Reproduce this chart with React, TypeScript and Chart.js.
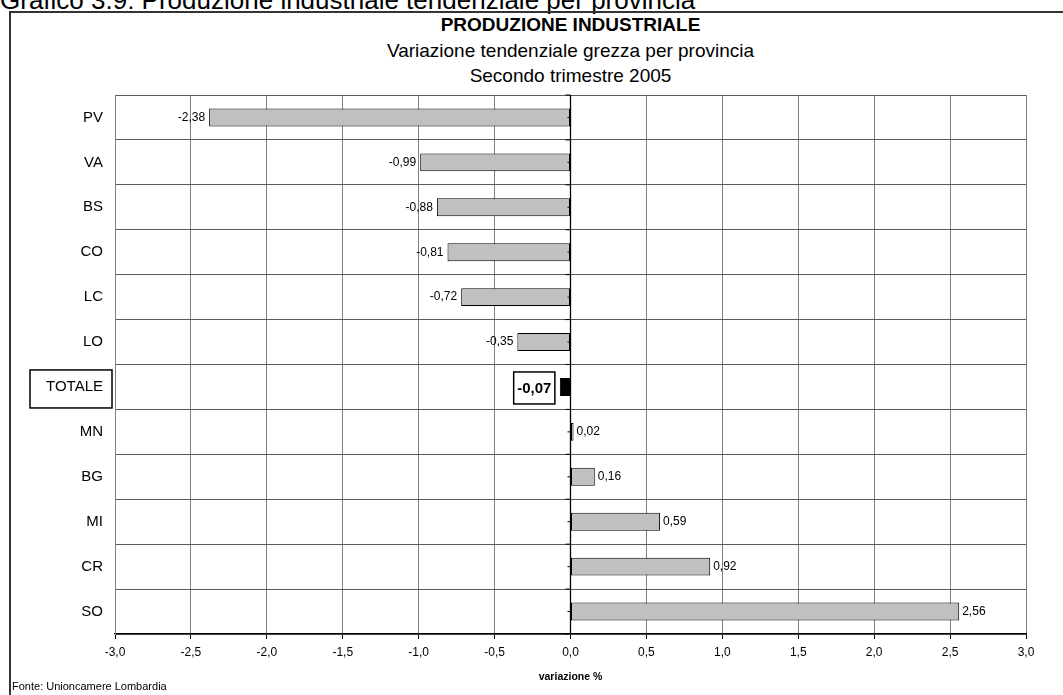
import React, { useEffect, useRef } from "react";
import { Chart, registerables } from "chart.js";

Chart.register(...registerables);

const categories = ["PV", "VA", "BS", "CO", "LC", "LO", "TOTALE", "MN", "BG", "MI", "CR", "SO"];
const values = [-2.38, -0.99, -0.88, -0.81, -0.72, -0.35, -0.07, 0.02, 0.16, 0.59, 0.92, 2.56];
const totalLabel = "TOTALE";
const xMin = -3;
const xMax = 3;
const xStep = 0.5;

const fmt = (v: number, d: number) => v.toFixed(d).replace(".", ",");

const FONT = "'Liberation Sans', Arial, sans-serif";

const overlayPlugin = {
  id: "overlay",
  afterDatasetsDraw(chart: any) {
    const ctx = chart.ctx;
    const xs = chart.scales.x;
    const ys = chart.scales.y;
    const area = chart.chartArea;
    const meta = chart.getDatasetMeta(0);
    const x0 = xs.getPixelForValue(0);
    ctx.save();
    // zero (category) axis
    ctx.strokeStyle = "#000";
    ctx.lineWidth = 1.3;
    ctx.beginPath();
    ctx.moveTo(x0, area.top);
    ctx.lineTo(x0, area.bottom);
    ctx.stroke();
    ctx.lineWidth = 1;
    const n = categories.length;
    const step = ys.getPixelForValue(1) - ys.getPixelForValue(0);
    for (let i = 0; i <= n; i++) {
      const y = ys.getPixelForValue(0) + (i - 0.5) * step;
      ctx.beginPath();
      ctx.moveTo(x0 - 5, y);
      ctx.lineTo(x0, y);
      ctx.stroke();
    }
    for (let i = 0; i < n; i++) {
      const y = ys.getPixelForValue(i);
      ctx.beginPath();
      ctx.moveTo(x0 - 3, y);
      ctx.lineTo(x0, y);
      ctx.stroke();
    }
    // data labels
    meta.data.forEach((bar: any, i: number) => {
      const v = values[i];
      const txt = fmt(v, 2);
      const isTot = categories[i] === totalLabel;
      ctx.fillStyle = "#000";
      ctx.textBaseline = "middle";
      if (isTot) {
        ctx.font = `bold 15px ${FONT}`;
        const w = ctx.measureText(txt).width;
        const right = Math.min(bar.x, bar.base) - 5;
        const bw = w + 7;
        const bh = 32;
        ctx.strokeStyle = "#000";
        ctx.lineWidth = 1.5;
        ctx.strokeRect(right - bw, bar.y - bh / 2 + 1, bw, bh);
        ctx.textAlign = "center";
        ctx.fillText(txt, right - bw / 2, bar.y + 2);
      } else {
        ctx.font = `12px ${FONT}`;
        if (v < 0) {
          ctx.textAlign = "right";
          ctx.fillText(txt, bar.x - 4, bar.y);
        } else {
          ctx.textAlign = "left";
          ctx.fillText(txt, bar.x + 3, bar.y);
        }
      }
    });
    // TOTALE category label box
    const ti = categories.indexOf(totalLabel);
    if (ti >= 0) {
      const y = ys.getPixelForValue(ti);
      ctx.strokeStyle = "#000";
      ctx.lineWidth = 1.5;
      ctx.strokeRect(30, y - 17, 82, 38);
    }
    ctx.restore();
  },
};

export default function App() {
  const ref = useRef<HTMLCanvasElement | null>(null);
  useEffect(() => {
    if (!ref.current) return;
    const chart = new Chart(ref.current, {
      type: "bar",
      data: {
        labels: categories,
        datasets: [
          {
            data: values,
            backgroundColor: categories.map((c) => (c === totalLabel ? "#000000" : "#C0C0C0")),
            borderColor: "#000",
            borderWidth: 1,
            borderSkipped: false,
            barPercentage: 0.4,
            categoryPercentage: 1,
          },
        ],
      },
      options: {
        indexAxis: "y",
        animation: false,
        responsive: true,
        maintainAspectRatio: false,
        layout: { padding: { top: 95, right: 37, bottom: 0, left: 0 } },
        plugins: {
          legend: { display: false },
          title: { display: false },
          tooltip: { enabled: false },
        },
        scales: {
          x: {
            type: "linear",
            min: xMin,
            max: xMax,
            ticks: {
              stepSize: xStep,
              color: "#000",
              font: { family: FONT, size: 12 },
              padding: 6,
              callback: (v: any) => fmt(Number(v), 1),
            },
            grid: {
              color: (c: any) => (c.tick && c.tick.value === 0 ? "rgba(0,0,0,0)" : "#808080"),
              tickColor: "#000",
              tickLength: 5,
              lineWidth: 1,
            },
            border: { color: "#000", width: 1.3 },
            title: {
              display: true,
              text: "variazione %",
              color: "#000",
              font: { family: FONT, size: 10.5, weight: "bold" },
              padding: { top: 0, bottom: 12 },
            },
            afterFit: (s: any) => {
              s.height = 61;
            },
          },
          y: {
            type: "category",
            ticks: {
              color: "#000",
              font: { family: FONT, size: 15 },
              padding: 12,
            },
            grid: {
              color: "#5a5a5a",
              drawTicks: false,
              offset: true,
              lineWidth: 1,
            },
            border: { color: "#808080", width: 1 },
            afterFit: (s: any) => {
              s.width = 115;
            },
          },
        },
      },
      plugins: [overlayPlugin],
    } as any);
    return () => chart.destroy();
  }, []);

  return (
    <div
      style={{
        position: "fixed",
        left: 0,
        top: 0,
        width: 1063,
        height: 695,
        overflow: "hidden",
        background: "#fff",
        fontFamily: FONT,
      }}
    >
      <div
        style={{
          position: "absolute",
          left: 0,
          top: -15,
          fontSize: 26,
          whiteSpace: "nowrap",
          color: "#000",
          lineHeight: "30px",
        }}
      >
        Grafico 3.9: Produzione industriale tendenziale per provincia
      </div>
      <div
        style={{
          position: "absolute",
          left: 9,
          top: 11,
          width: 1100,
          height: 720,
          border: "2px solid #333",
          boxSizing: "border-box",
        }}
      />
      <div
        style={{
          position: "absolute",
          left: 115,
          width: 911,
          top: 12,
          textAlign: "center",
          fontSize: 19,
          lineHeight: "25.5px",
          color: "#000",
        }}
      >
        <div style={{ fontWeight: "bold" }}>PRODUZIONE INDUSTRIALE</div>
        <div>Variazione tendenziale grezza per provincia</div>
        <div>Secondo trimestre 2005</div>
      </div>
      <div style={{ position: "absolute", left: 0, top: 0, width: 1063, height: 695 }}>
        <canvas ref={ref} />
      </div>
      <div
        style={{
          position: "absolute",
          left: 12,
          top: 680,
          fontSize: 11,
          lineHeight: "13px",
          color: "#000",
          whiteSpace: "nowrap",
        }}
      >
        Fonte: Unioncamere Lombardia
      </div>
    </div>
  );
}
